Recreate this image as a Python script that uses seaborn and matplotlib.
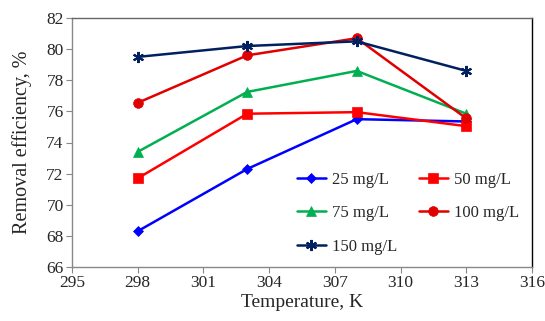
import matplotlib
matplotlib.use("Agg")
import matplotlib.pyplot as plt
import seaborn as sns
import pandas as pd

temperature = [298, 303, 308, 313]
series_labels = ["25 mg/L", "50 mg/L", "75 mg/L", "100 mg/L", "150 mg/L"]
eff_25 = [68.3, 72.3, 75.5, 75.35]
eff_50 = [71.7, 75.85, 75.95, 75.05]
eff_75 = [73.4, 77.25, 78.6, 75.85]
eff_100 = [76.55, 79.6, 80.7, 75.55]
eff_150 = [79.5, 80.2, 80.5, 78.6]

x_ticks = [295, 298, 301, 304, 307, 310, 313, 316]
y_ticks = [66, 68, 70, 72, 74, 76, 78, 80, 82]

frames = []
for lab, vals in zip(series_labels, [eff_25, eff_50, eff_75, eff_100, eff_150]):
    frames.append(pd.DataFrame({"T": temperature, "eff": vals, "conc": lab}))
df = pd.concat(frames, ignore_index=True)

sns.set_style("white")
plt.rcParams["font.family"] = ["Liberation Serif", "DejaVu Serif"]

palette = {"25 mg/L": "#0000ff", "50 mg/L": "#ff0000", "75 mg/L": "#00b050",
           "100 mg/L": "#e00000", "150 mg/L": "#002060"}
markers = {"25 mg/L": "D", "50 mg/L": "s", "75 mg/L": "^",
           "100 mg/L": "o", "150 mg/L": (6, 2, 0)}
sizes = {"25 mg/L": 5, "50 mg/L": 7, "75 mg/L": 7, "100 mg/L": 7, "150 mg/L": 8}

fig = plt.figure(figsize=(5.45, 3.21), dpi=100)
ax = fig.add_axes([72 / 545, 1 - 267 / 321, 460 / 545, 249 / 321])

for lab in series_labels:
    sub = df[df["conc"] == lab]
    sns.lineplot(data=sub, x="T", y="eff", ax=ax, color=palette[lab],
                 marker=markers[lab], markersize=sizes[lab], linewidth=1.8,
                 markeredgecolor=palette[lab],
                 markeredgewidth=1.5 if lab == "150 mg/L" else 0.5,
                 label=lab)

ax.set_xlim(295, 316)
ax.set_ylim(66, 82)
ax.set_xticks(x_ticks)
ax.set_yticks(y_ticks)
ax.tick_params(axis="both", direction="out", length=4, width=0.8, color="#888888",
               labelsize=12.5, bottom=True, left=True, pad=2)
ax.set_xlabel("Temperature, K", fontsize=14, labelpad=2)
ax.set_ylabel("Removal efficiency, %", fontsize=14.5, labelpad=10)

for side in ["left", "bottom"]:
    ax.spines[side].set_color("#888888")
    ax.spines[side].set_linewidth(1.0)
ax.spines["top"].set_color("#666666")
ax.spines["top"].set_linewidth(1.0)
ax.spines["right"].set_color("#000000")
ax.spines["right"].set_linewidth(1.0)

# row-major legend layout: 25|50, 75|100, 150
handles, labels = ax.get_legend_handles_labels()
order = [0, 2, 4, 1, 3]
leg = ax.legend([handles[i] for i in order], [labels[i] for i in order],
                loc="upper left", bbox_to_anchor=(0.474, 0.41), ncol=2, frameon=False,
                fontsize=12, handlelength=1.75, handletextpad=0.35, columnspacing=1.3,
                labelspacing=1.05, borderaxespad=0)

fig.savefig("out.png", dpi=100)
